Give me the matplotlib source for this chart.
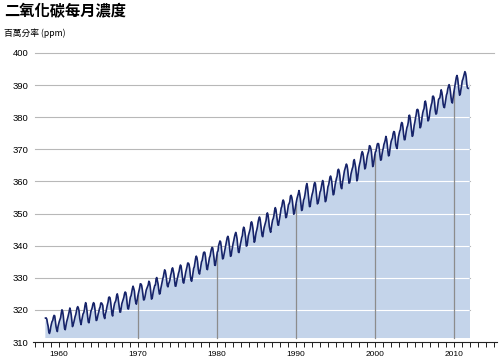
import numpy as np
import matplotlib.pyplot as plt

plt.rcParams['font.family'] = ['Liberation Sans', 'Noto Sans CJK TC', 'DejaVu Sans']

title = "二氧化碳每月濃度"
unit_label = "百萬分率 (ppm)"

# monthly mean CO2 (ppm), Mauna Loa, starting March 1958
start_year = 1958
start_month = 3
co2_ppm = [
    315.71, 317.45, 317.50, 317.10, 315.86, 314.93, 313.20, 312.66, 313.33, 314.67,  # 1958
    315.62, 316.38, 316.71, 317.72, 318.29, 318.15, 316.54, 314.80, 313.84, 313.26, 314.80, 315.58,  # 1959
    316.43, 316.97, 317.58, 319.02, 320.03, 319.59, 318.18, 315.91, 314.16, 313.83, 315.00, 316.19,  # 1960
    316.93, 317.70, 318.54, 319.48, 320.58, 319.77, 318.57, 316.79, 314.80, 315.38, 316.10, 317.01,  # 1961
    317.94, 318.56, 319.68, 320.63, 321.01, 320.55, 319.58, 317.40, 316.26, 315.42, 316.69, 317.69,  # 1962
    318.74, 319.08, 319.86, 321.39, 322.25, 321.47, 319.74, 317.77, 316.21, 315.99, 317.12, 318.31,  # 1963
    319.57, 320.07, 320.73, 321.77, 322.25, 321.89, 320.44, 318.70, 316.70, 316.79, 317.79, 318.71,  # 1964
    319.44, 320.44, 320.89, 322.13, 322.16, 321.87, 321.39, 318.81, 317.81, 317.30, 318.87, 319.42,  # 1965
    320.62, 321.59, 322.39, 323.87, 324.01, 323.75, 322.39, 320.37, 318.64, 318.10, 319.79, 321.08,  # 1966
    322.07, 322.50, 323.04, 324.42, 325.00, 324.09, 322.55, 320.92, 319.31, 319.31, 320.72, 321.96,  # 1967
    322.57, 323.15, 323.89, 325.02, 325.57, 325.36, 324.14, 322.03, 320.41, 320.25, 321.31, 322.84,  # 1968
    324.00, 324.42, 325.64, 326.66, 327.38, 326.70, 325.89, 323.67, 322.38, 321.78, 322.85, 324.11,  # 1969
    325.03, 325.99, 326.87, 328.13, 328.07, 327.66, 326.35, 324.69, 323.10, 323.16, 323.98, 325.13,  # 1970
    326.17, 326.68, 327.18, 327.78, 328.92, 328.57, 327.34, 325.46, 323.36, 323.57, 324.80, 326.01,  # 1971
    326.77, 327.63, 327.75, 329.72, 330.07, 329.09, 328.05, 326.32, 324.93, 325.06, 326.50, 327.55,  # 1972
    328.54, 329.56, 330.30, 331.50, 332.48, 332.07, 330.87, 329.31, 327.51, 327.18, 328.16, 328.64,  # 1973
    329.35, 330.71, 331.48, 332.65, 333.09, 332.25, 331.18, 329.40, 327.43, 327.37, 328.46, 329.57,  # 1974
    330.40, 331.40, 332.04, 333.31, 333.96, 333.59, 331.91, 330.06, 328.56, 328.34, 329.49, 330.76,  # 1975
    331.75, 332.56, 333.50, 334.58, 334.57, 334.19, 332.87, 330.73, 329.25, 328.91, 330.06, 331.47,  # 1976
    332.92, 333.42, 334.70, 336.07, 336.74, 336.27, 334.93, 332.75, 331.58, 331.16, 332.40, 333.85,  # 1977
    334.97, 335.39, 336.64, 337.76, 338.01, 337.89, 336.54, 334.68, 332.76, 332.54, 333.92, 334.95,  # 1978
    336.23, 336.76, 337.96, 338.89, 339.47, 339.29, 337.73, 336.09, 333.91, 333.86, 335.29, 336.73,  # 1979
    338.01, 338.36, 340.08, 340.77, 341.46, 341.17, 339.56, 337.60, 335.88, 336.01, 337.10, 338.21,  # 1980
    339.23, 340.47, 341.38, 342.51, 342.91, 342.25, 340.49, 338.43, 336.69, 336.85, 338.36, 339.61,  # 1981
    340.75, 341.61, 342.70, 343.56, 344.13, 343.35, 342.06, 339.82, 337.97, 337.86, 339.26, 340.49,  # 1982
    341.38, 342.52, 343.10, 344.94, 345.75, 345.32, 343.99, 342.39, 339.86, 339.99, 341.16, 342.99,  # 1983
    343.70, 344.51, 345.28, 347.08, 347.43, 346.79, 345.40, 343.28, 341.07, 341.35, 342.98, 344.22,  # 1984
    344.97, 345.99, 347.42, 348.35, 348.93, 348.25, 346.56, 344.69, 343.09, 342.80, 344.24, 345.56,  # 1985
    346.29, 346.96, 347.86, 349.55, 350.21, 349.54, 347.94, 345.91, 344.86, 344.17, 345.66, 346.90,  # 1986
    348.02, 348.47, 349.42, 350.99, 351.84, 351.25, 349.52, 348.10, 346.44, 346.36, 347.81, 348.96,  # 1987
    350.43, 351.72, 352.22, 353.59, 354.22, 353.79, 352.39, 350.44, 348.72, 348.88, 350.07, 351.34,  # 1988
    352.76, 353.07, 353.68, 355.42, 355.67, 355.13, 353.90, 351.67, 349.80, 349.99, 351.30, 352.53,  # 1989
    353.66, 354.70, 355.39, 356.20, 357.16, 356.22, 354.82, 352.91, 350.96, 351.18, 352.83, 354.21,  # 1990
    354.72, 355.75, 357.16, 358.60, 359.34, 358.24, 356.17, 354.03, 352.16, 352.21, 353.75, 354.99,  # 1991
    355.99, 356.72, 357.81, 359.15, 359.66, 359.25, 357.02, 355.00, 353.01, 353.31, 354.16, 355.40,  # 1992
    356.70, 357.16, 358.38, 359.46, 360.28, 359.60, 357.57, 355.52, 353.70, 353.98, 355.33, 356.80,  # 1993
    358.36, 358.91, 359.97, 361.26, 361.68, 360.95, 359.55, 357.49, 355.84, 356.00, 357.58, 359.04,  # 1994
    359.96, 361.00, 361.64, 363.45, 363.79, 363.26, 361.90, 359.46, 358.06, 357.75, 359.56, 360.70,  # 1995
    362.05, 363.25, 364.03, 364.72, 365.41, 364.97, 363.65, 361.49, 359.46, 359.60, 360.76, 362.33,  # 1996
    363.18, 364.00, 364.57, 366.35, 366.79, 365.62, 364.47, 362.51, 360.19, 360.77, 362.43, 364.28,  # 1997
    365.32, 366.15, 367.31, 368.61, 369.29, 368.87, 367.64, 365.77, 363.90, 364.23, 365.46, 366.97,  # 1998
    368.15, 368.87, 369.59, 371.14, 371.00, 370.35, 369.27, 366.94, 364.63, 365.12, 366.67, 368.01,  # 1999
    369.14, 369.46, 370.52, 371.66, 371.82, 371.70, 370.12, 368.12, 366.62, 366.73, 368.29, 369.53,  # 2000
    370.28, 371.50, 372.12, 372.87, 374.02, 373.30, 371.62, 369.55, 367.96, 368.09, 369.68, 371.24,  # 2001
    372.44, 373.08, 373.52, 374.85, 375.55, 375.40, 374.02, 371.48, 370.71, 370.25, 372.08, 373.78,  # 2002
    374.68, 375.63, 376.11, 377.65, 378.35, 378.13, 376.62, 374.50, 372.99, 373.00, 374.35, 375.70,  # 2003
    376.79, 377.37, 378.41, 380.52, 380.63, 379.57, 377.79, 375.86, 374.06, 374.24, 375.86, 377.48,  # 2004
    378.46, 379.73, 380.77, 382.29, 382.45, 382.21, 380.74, 378.74, 376.70, 377.00, 378.35, 380.11,  # 2005
    381.38, 382.19, 382.67, 384.61, 385.03, 384.05, 382.46, 380.41, 378.85, 379.13, 380.15, 381.82,  # 2006
    382.89, 383.90, 384.58, 386.50, 386.56, 386.10, 384.50, 381.99, 380.96, 381.12, 382.45, 383.95,  # 2007
    385.52, 385.82, 386.03, 387.21, 388.54, 387.76, 386.36, 384.09, 383.18, 382.99, 384.19, 385.56,  # 2008
    386.94, 387.48, 388.82, 389.55, 390.14, 389.48, 388.03, 386.11, 384.74, 384.43, 386.02, 387.42,  # 2009
    388.71, 390.20, 391.17, 392.46, 393.00, 392.15, 390.20, 388.35, 386.85, 387.24, 388.67, 389.79,  # 2010
    391.33, 391.86, 392.60, 393.25, 394.19, 393.74, 392.51, 390.13, 389.08, 389.00, 390.28, 391.86,  # 2011
]

y_ticks = [310, 320, 330, 340, 350, 360, 370, 380, 390, 400]
x_label_years = [1960, 1970, 1980, 1990, 2000, 2010]
decade_lines = [1970, 1980, 1990, 2000, 2010]

co2 = np.array(co2_ppm)
t = start_year + (start_month - 1 + np.arange(len(co2)) + 0.5) / 12.0

fig = plt.figure(figsize=(5, 3.62), dpi=100)
ax = fig.add_axes([33 / 500, 20 / 362, 464 / 500, 289 / 362])
ax.set_xlim(1956.71, 2015.44)
ax.set_ylim(310, 400)

fill_base = 311.4
data_end = t[-1] + 0.05

# gray gridlines (visible above the curve)
for yv in y_ticks[1:]:
    right = 2015.1 if yv == y_ticks[-1] else data_end
    ax.plot([1956.95, right], [yv, yv], color='#b8b8b8', lw=0.8, zorder=1, clip_on=False)

poly = ax.fill_between(t, co2, fill_base, color='#c4d4ea', lw=0, zorder=2)
clip_path = poly.get_paths()[0]

# white gridlines inside the filled area
for yv in y_ticks[1:]:
    ln, = ax.plot([1956.95, 2015.1], [yv, yv], color='white', lw=0.8, zorder=3)
    ln.set_clip_path(clip_path, ax.transData)

# decade markers from base up to the curve
for yr in decade_lines:
    top = np.interp(yr, t, co2)
    ax.plot([yr, yr], [fill_base, top], color='#8c8c8c', lw=0.9, zorder=3)

ax.plot(t[1:-2], co2[1:-2], color='#17246a', lw=1.2, zorder=4)

for s in ['top', 'right', 'left']:
    ax.spines[s].set_visible(False)
ax.spines['bottom'].set_color('#222222')
ax.spines['bottom'].set_linewidth(0.8)

tick_years = list(range(1957, 2016))
ax.set_xticks(tick_years)
ax.set_xticklabels([str(y) if y in x_label_years else '' for y in tick_years], fontsize=6)
ax.tick_params(axis='x', length=3.5, width=0.7, color='#222222', pad=3)

ax.set_yticks(y_ticks)
ax.set_yticklabels([str(v) for v in y_ticks], fontsize=6.8)
ax.tick_params(axis='y', length=0, pad=3)

fig.text(4 / 500, 1 - 11 / 362, title, fontsize=11, fontweight='bold',
         family=['Noto Sans CJK TC', 'DejaVu Sans'], va='center', ha='left')
fig.text(4 / 500, 1 - 33 / 362, unit_label, fontsize=6.3,
         family=['Noto Sans CJK TC', 'DejaVu Sans'], va='center', ha='left')

fig.savefig('out.png', dpi=100)
